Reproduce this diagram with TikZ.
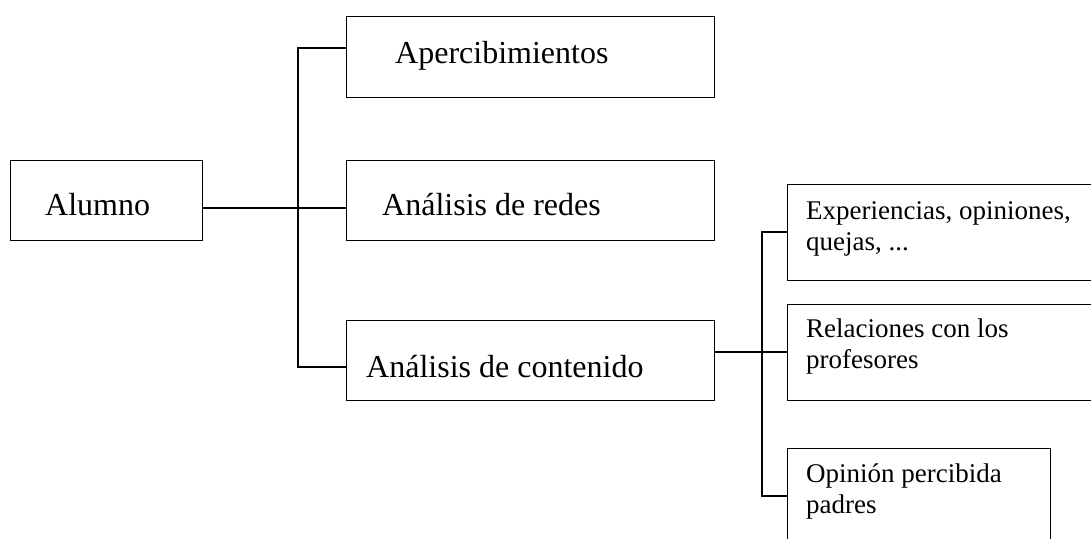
\documentclass[tikz,border=0pt]{standalone}
\usepackage{fontspec}
\setmainfont{Liberation Serif}
\begin{document}
\begin{tikzpicture}[x=1pt,y=-1pt,
  box/.style={draw, line width=1.1pt, inner sep=0pt, anchor=north west},
  big/.style={anchor=base west, inner sep=0pt, font=\fontsize{32}{37}\selectfont},
  small/.style={anchor=base west, inner sep=0pt, font=\fontsize{27}{31}\selectfont},
  conn/.style={line width=1.1pt}]
\useasboundingbox (0,0) rectangle (1091,538);
% boxes
\node[box, minimum width=192pt, minimum height=80pt] (alumno) at (10,160) {};
\node[box, minimum width=368pt, minimum height=81pt] (aperc) at (346,16) {};
\node[box, minimum width=368pt, minimum height=80pt] (redes) at (346,160) {};
\node[box, minimum width=368pt, minimum height=80pt] (cont) at (346,320) {};
\node[box, minimum width=320pt, minimum height=96pt] (exper) at (787,184) {};
\node[box, minimum width=320pt, minimum height=96pt] (relac) at (787,304) {};
\node[box, minimum width=263pt, minimum height=110pt] (opin) at (787,448) {};
% texts
\node[big] (talumno) at (45,215) {Alumno};
\node[big] (taperc) at (395,63) {Apercibimientos};
\node[big] (tredes) at (382,215) {Análisis de redes};
\node[big] (tcont) at (366,377) {Análisis de contenido};
\node[small] (texper) at (806,219) {\begin{tabular}[t]{@{}l@{}}Experiencias, opiniones,\\ quejas, ...\end{tabular}};
\node[small] (trelac) at (806,337) {\begin{tabular}[t]{@{}l@{}}Relaciones con los\\ profesores\end{tabular}};
\node[small] (topin) at (806,482) {\begin{tabular}[t]{@{}l@{}}Opinión percibida\\ padres\end{tabular}};
% junction coordinates
\coordinate (ja) at (298,48);
\coordinate (jm) at (298,208);
\coordinate (jc) at (298,367);
\coordinate (kr) at (762,352);
\coordinate (ke) at (762,232);
\coordinate (ko) at (762,496);
% connectors
\draw[conn] (alumno.east |- jm) -- (redes.west |- jm);
\draw[conn] (aperc.west |- ja) -- (ja) -- (jc) -- (cont.west |- jc);
\draw[conn] (cont.east |- kr) -- (relac.west |- kr);
\draw[conn] (exper.west |- ke) -- (ke) -- (ko) -- (opin.west |- ko);
\end{tikzpicture}
\end{document}
